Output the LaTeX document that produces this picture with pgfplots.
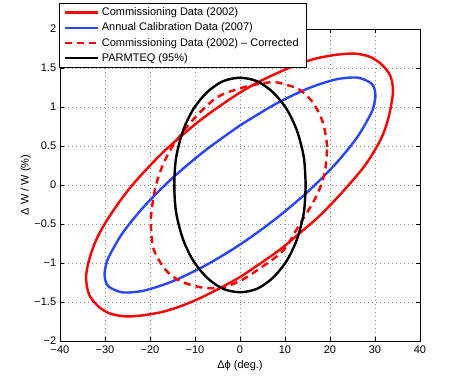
\documentclass[border=0pt]{standalone}
\usepackage{fontspec}
\setmainfont{Liberation Sans}
\usepackage{pgfplots}
\pgfplotsset{compat=1.18}
\definecolor{mred}{RGB}{255,0,0}
\definecolor{mblue}{RGB}{40,70,255}

\begin{document}
\fontsize{11bp}{13bp}\selectfont
\begin{tikzpicture}
\useasboundingbox (-60bp,-43bp) rectangle (403bp,341bp);
\begin{axis}[
  at={(0bp,0bp)}, anchor=south west,
  scale only axis, width=360bp, height=312bp,
  xmin=-40, xmax=40, ymin=-2, ymax=2,
  xtick={-40,-30,-20,-10,0,10,20,30,40},
  ytick={-2,-1.5,-1,-0.5,0,0.5,1,1.5,2},
  xticklabels={−40,−30,−20,−10,0,10,20,30,40},
  yticklabels={−2,−1.5,−1,−0.5,0,0.5,1,1.5,2},
  xticklabel style={yshift=-1bp},
  grid=major,
  major grid style={black!45, line width=0.6bp, dash pattern=on 1bp off 3bp},
  axis line style={black, line width=0.8bp},
  tick align=inside, major tick length=4bp,
  tick style={black, line width=0.6bp},
  xlabel={Δϕ (deg.)},
  ylabel={Δ W / W (\%)},
  xlabel style={at={(axis description cs:0.5,-0.08)}, anchor=center},
  ylabel style={at={(axis description cs:-0.095,0.5)}, anchor=center},
  legend cell align=left,
  legend style={at={(axis description cs:-0.003,1.083)}, anchor=north west,
    draw=black, line width=0.6bp, fill=white, row sep=0bp,
    inner xsep=5bp, inner ysep=1.5bp,
    nodes={inner xsep=2.2bp, inner ysep=2.8bp}},
  legend image code/.code={\draw[#1] (0bp,0bp) -- (33bp,0bp);},
]
% Commissioning Data (2002)
\addplot[mred, line width=2.4bp, smooth] coordinates {
(4.4,1.33) (0.0,1.185) (-4.4,1.015) (-8.85,0.83) (-13.0,0.63) (-17.1,0.42)
(-20.8,0.20) (-24.2,-0.02) (-27.1,-0.24) (-29.6,-0.455) (-31.6,-0.66) (-33.0,-0.86)
(-33.9,-1.05) (-34.2,-1.21) (-33.5,-1.41) (-31.4,-1.56) (-28.8,-1.65) (-25.3,-1.685)
(-21.5,-1.67) (-17.1,-1.625) (-13.0,-1.55) (-8.85,-1.45) (-4.4,-1.32) (0.0,-1.18)
(4.4,-1.01) (8.85,-0.83) (13.2,-0.62) (17.6,-0.40) (21.5,-0.17) (24.6,0.03)
(27.5,0.23) (29.8,0.43) (31.8,0.65) (33.2,0.91) (34.0,1.20) (33.4,1.40)
(31.4,1.55) (28.8,1.645) (25.5,1.685) (21.5,1.67) (17.1,1.625) (13.0,1.55)
(8.85,1.45) (4.4,1.33)
};
\addlegendentry{Commissioning Data (2002)}
% Annual Calibration Data (2007)
\addplot[mblue, line width=2.4bp, smooth] coordinates {
(0.0,0.764) (-7.79,0.44) (-15.05,0.087) (-21.28,-0.273) (-26.07,-0.614) (-29.07,-0.912)
(-29.84,-1.04) (-30.1,-1.15) (-29.84,-1.239) (-29.07,-1.308) (-26.07,-1.377) (-21.28,-1.353)
(-15.05,-1.236) (-7.79,-1.035) (0.0,-0.764) (7.79,-0.44) (15.05,-0.087) (21.28,0.273)
(26.07,0.614) (29.07,0.912) (29.84,1.04) (30.1,1.15) (29.84,1.239) (29.07,1.308)
(26.07,1.377) (21.28,1.353) (15.05,1.236) (7.79,1.035) (0.0,0.764)
};
\addlegendentry{Annual Calibration Data (2007)}
% Commissioning Data (2002) - Corrected
\addplot[mred, line width=2.4bp, smooth, dash pattern=on 7bp off 5bp] coordinates {
(19.4,0.49) (18.5,0.79) (16.3,1.05) (13.3,1.22) (10.0,1.29) (7.4,1.32)
(3.7,1.29) (0.0,1.24) (-5.2,1.12) (-10.4,0.84) (-14.6,0.53) (-17.2,0.25)
(-18.9,-0.06) (-19.8,-0.45) (-19.2,-0.82) (-16.5,-1.09) (-13.3,-1.23) (-8.9,-1.31)
(-4.4,-1.32) (0.0,-1.23) (4.4,-1.07) (9.6,-0.84) (13.3,-0.50) (15.9,-0.26)
(17.7,-0.05) (18.9,0.18) (19.4,0.49)
};
\addlegendentry{Commissioning Data (2002) – Corrected}
% PARMTEQ (95%)
\addplot[black, line width=2.4bp, smooth] coordinates {
(14.6,0.0) (14.2,0.35) (12.7,0.69) (10.4,0.97) (7.3,1.19) (3.8,1.33)
(0.0,1.375) (-3.8,1.33) (-7.3,1.19) (-10.4,0.97) (-12.7,0.69) (-14.2,0.35)
(-14.6,0.0) (-14.2,-0.35) (-12.7,-0.69) (-10.4,-0.97) (-7.3,-1.19) (-3.8,-1.33)
(0.0,-1.375) (3.8,-1.33) (7.3,-1.19) (10.4,-0.97) (12.7,-0.69) (14.2,-0.35)
(14.6,0.0)
};
\addlegendentry{PARMTEQ (95\%)}
\end{axis}
\end{tikzpicture}
\end{document}
